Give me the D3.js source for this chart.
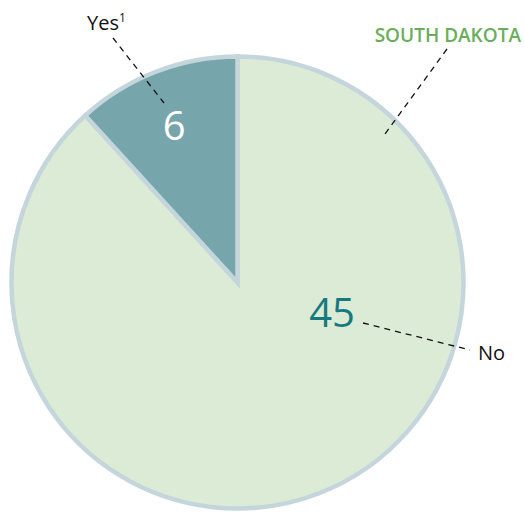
<!DOCTYPE html>
<html>
<head>
<meta charset="utf-8">
<script src="https://cdn.jsdelivr.net/npm/d3@7"></script>
<style>
  html, body { margin: 0; padding: 0; background: #fff; }
  svg { display: block; }
</style>
</head>
<body>
<svg id="chart" width="524" height="512"></svg>
<script>
// Responses for South Dakota
const categories = ["No", "Yes"];
const values = [45, 6];
const title = "SOUTH DAKOTA";

const colors = { No: "#dcebd6", Yes: "#77a5ac" };
const valueColors = { No: "#16797d", Yes: "#ffffff" };

const svg = d3.select("#chart");
const cx = 237.5, cy = 282.5, r = 226;

const pie = d3.pie().sort(null).value(d => d.value);
const slices = pie(categories.map((c, i) => ({ cat: c, value: values[i] })));
const arc = d3.arc().innerRadius(0).outerRadius(r);

const g = svg.append("g").attr("transform", `translate(${cx},${cy})`);

g.selectAll("path.slice")
  .data(slices)
  .join("path")
  .attr("class", "slice")
  .attr("d", arc)
  .attr("fill", d => colors[d.data.cat])
  .attr("stroke", "#c4d6dc")
  .attr("stroke-width", 4.5)
  .attr("stroke-linejoin", "miter");

const font = "'Open Sans', 'Noto Sans', sans-serif";

// value labels: "6" sits along the small slice's centroid, "45" beside its leader line
const yesArc = d3.arc().innerRadius(170).outerRadius(170);

g.selectAll("text.value")
  .data(slices)
  .join("text")
  .attr("class", "value")
  .attr("x", d => d.data.cat === "No" ? 332 - cx : yesArc.centroid(d)[0] - 2)
  .attr("y", d => d.data.cat === "No" ? 327 - cy : 140 - cy)
  .attr("text-anchor", "middle")
  .attr("font-family", font)
  .attr("font-size", 40)
  .attr("fill", d => valueColors[d.data.cat])
  .text(d => d.data.value);

// leader lines
const dash = "6,5";
function leader(x1, y1, x2, y2) {
  svg.append("line")
    .attr("x1", x1).attr("y1", y1).attr("x2", x2).attr("y2", y2)
    .attr("stroke", "#111").attr("stroke-width", 1.3)
    .attr("stroke-dasharray", dash);
}
leader(113, 38, 164, 103);
leader(447, 49, 385, 134);
leader(363, 323, 470, 350);

// category labels
const yes = svg.append("text")
  .attr("x", 87).attr("y", 30)
  .attr("font-family", font).attr("font-size", 20).attr("fill", "#111");
yes.append("tspan").text(categories[1]);
yes.append("tspan").attr("font-size", 12).attr("dy", -8).attr("fill", "#111").text("1");

svg.append("text")
  .attr("x", 478).attr("y", 360)
  .attr("font-family", font).attr("font-size", 20).attr("fill", "#111")
  .text(categories[0]);

svg.append("text")
  .attr("x", 521).attr("y", 42)
  .attr("text-anchor", "end")
  .attr("font-family", font).attr("font-size", 19).attr("font-weight", 600)
  .attr("fill", "#6aae5c")
  .text(title);
</script>
</body>
</html>
